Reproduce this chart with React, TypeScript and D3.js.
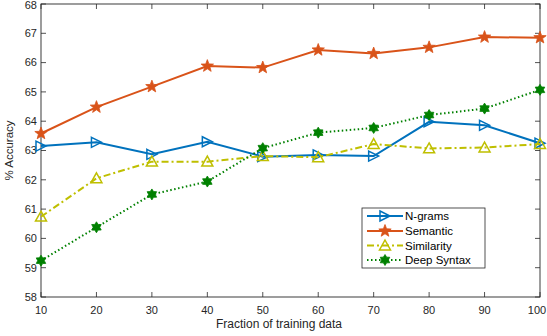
import React from "react";
import * as d3 from "d3";

const xValues = [10, 20, 30, 40, 50, 60, 70, 80, 90, 100];
const ngrams = [63.15, 63.28, 62.87, 63.3, 62.79, 62.85, 62.81, 63.98, 63.86, 63.25];
const semantic = [63.58, 64.48, 65.18, 65.88, 65.83, 66.43, 66.31, 66.52, 66.87, 66.85];
const similarity = [60.74, 62.05, 62.62, 62.62, 62.81, 62.77, 63.22, 63.07, 63.1, 63.22];
const deepSyntax = [59.24, 60.38, 61.5, 61.94, 63.08, 63.61, 63.77, 64.21, 64.43, 65.07];
const yTicks = [58, 59, 60, 61, 62, 63, 64, 65, 66, 67, 68];
const xTicks = [10, 20, 30, 40, 50, 60, 70, 80, 90, 100];
const seriesNames = ["N-grams", "Semantic", "Similarity", "Deep Syntax"];

const W = 547, H = 336;
const L = 41, R = 540, T = 4, B = 297;
const FONT = "'Liberation Sans', Arial, Helvetica, sans-serif";
const AXC = "#262626";

type Spec = { name: string; vals: number[]; color: string; dash: string; marker: string };
const specs: Spec[] = [
  { name: seriesNames[0], vals: ngrams, color: "#0072BD", dash: "", marker: "right" },
  { name: seriesNames[1], vals: semantic, color: "#D95319", dash: "", marker: "star" },
  { name: seriesNames[2], vals: similarity, color: "#BFBF00", dash: "7,3,2,3", marker: "up" },
  { name: seriesNames[3], vals: deepSyntax, color: "#008000", dash: "1.5,2.5", marker: "hex" },
];

function starPath(r: number, n: number, inner: number) {
  const pts: [number, number][] = [];
  for (let i = 0; i < n * 2; i++) {
    const a = -Math.PI / 2 + (i * Math.PI) / n;
    const rr = i % 2 === 0 ? r : r * inner;
    pts.push([rr * Math.cos(a), rr * Math.sin(a)]);
  }
  return "M" + pts.map((p) => p.join(",")).join("L") + "Z";
}

function Marker({ type, x, y, color }: { type: string; x: number; y: number; color: string }) {
  if (type === "right") {
    const s = 5;
    return (
      <path d={`M${x - s},${y - s}L${x + s},${y}L${x - s},${y + s}Z`} fill="none" stroke={color} strokeWidth={1.5} />
    );
  }
  if (type === "up") {
    const s = 5.5;
    return (
      <path d={`M${x},${y - s}L${x + s},${y + s * 0.8}L${x - s},${y + s * 0.8}Z`} fill="none" stroke={color} strokeWidth={1.5} />
    );
  }
  if (type === "star") {
    return <path transform={`translate(${x},${y})`} d={starPath(6.5, 5, 0.42)} fill={color} stroke={color} strokeWidth={0.8} />;
  }
  return <path transform={`translate(${x},${y})`} d={starPath(5.5, 6, 0.6)} fill={color} stroke={color} strokeWidth={0.8} />;
}

export default function App() {
  const x = d3.scaleLinear().domain([10, 100]).range([L, R]);
  const y = d3.scaleLinear().domain([58, 68]).range([B, T]);
  const line = d3
    .line<number>()
    .x((_, i) => x(xValues[i]))
    .y((d) => y(d));

  const legX = 362, legY = 208, legW = 123, legH = 60;
  const rowY = [216, 231, 245.5, 260];

  return (
    <svg width={W} height={H} style={{ position: "absolute", left: 0, top: 0, background: "#fff" }} fontFamily={FONT}>
      <rect x={0} y={0} width={W} height={H} fill="#fff" />
      {/* ticks */}
      {yTicks.map((t) => (
        <g key={"y" + t}>
          <line x1={L} x2={L + 5} y1={y(t)} y2={y(t)} stroke={AXC} strokeWidth={0.8} />
          <line x1={R} x2={R - 5} y1={y(t)} y2={y(t)} stroke={AXC} strokeWidth={0.8} />
          <text x={L - 4} y={Math.max(y(t), 5)} dy="0.35em" textAnchor="end" fontSize={11} fill={AXC}>
            {t}
          </text>
        </g>
      ))}
      {xTicks.map((t) => (
        <g key={"x" + t}>
          <line x1={x(t)} x2={x(t)} y1={B} y2={B - 5} stroke={AXC} strokeWidth={0.8} />
          <line x1={x(t)} x2={x(t)} y1={T} y2={T + 5} stroke={AXC} strokeWidth={0.8} />
          <text x={Math.min(x(t), W - 10)} y={B + 17} textAnchor="middle" fontSize={11} fill={AXC}>
            {t}
          </text>
        </g>
      ))}
      <rect x={L} y={T} width={R - L} height={B - T} fill="none" stroke={AXC} strokeWidth={0.9} />
      <text x={279} y={328} textAnchor="middle" fontSize={12} fill={AXC}>
        Fraction of training data
      </text>
      <text transform={`translate(13,${(T + B) / 2}) rotate(-90)`} textAnchor="middle" fontSize={11.5} fill={AXC}>
        % Accuracy
      </text>
      {/* series */}
      {specs.map((s) => (
        <g key={s.name}>
          <path d={line(s.vals) || ""} fill="none" stroke={s.color} strokeWidth={2} strokeDasharray={s.dash || undefined} />
          {s.vals.map((v, i) => (
            <Marker key={i} type={s.marker} x={x(xValues[i])} y={y(v)} color={s.color} />
          ))}
        </g>
      ))}
      {/* legend */}
      <rect x={legX} y={legY} width={legW} height={legH} fill="#fff" stroke={AXC} strokeWidth={0.8} />
      {specs.map((s, i) => (
        <g key={"leg" + s.name}>
          <line x1={legX + 5} x2={legX + 41} y1={rowY[i]} y2={rowY[i]} stroke={s.color} strokeWidth={2} strokeDasharray={s.dash || undefined} />
          <Marker type={s.marker} x={legX + 23} y={rowY[i]} color={s.color} />
          <text x={legX + 43} y={rowY[i]} dy="0.35em" fontSize={11.5} fill="#000">
            {s.name}
          </text>
        </g>
      ))}
    </svg>
  );
}
